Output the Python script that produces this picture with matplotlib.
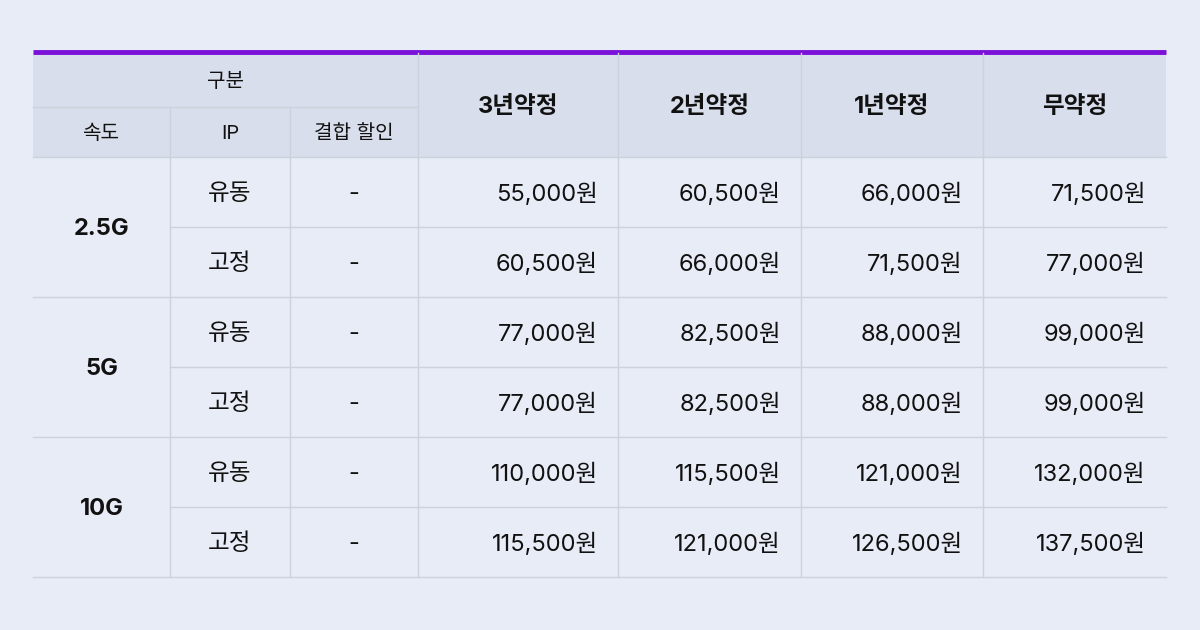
import matplotlib
matplotlib.use("Agg")
import matplotlib.pyplot as plt
from matplotlib.patches import Rectangle

plt.rcParams['font.family'] = ['Inter', 'Noto Sans CJK KR', 'DejaVu Sans']

speeds = ["2.5G", "5G", "10G"]
ip_types = ["유동", "고정"]
discount = "-"
terms = ["3년약정", "2년약정", "1년약정", "무약정"]
price_3y = [55000, 60500, 77000, 77000, 110000, 115500]
price_2y = [60500, 66000, 82500, 82500, 115500, 121000]
price_1y = [66000, 71500, 88000, 88000, 121000, 126500]
price_no = [71500, 77000, 99000, 99000, 132000, 137500]
prices = [price_3y, price_2y, price_1y, price_no]

BG = "#E8ECF6"
HEAD = "#D9DEEC"
LINE = "#CDD1DC"
PURPLE = "#7B10D8"
TXT = "#111111"

fig = plt.figure(figsize=(12, 6.3), dpi=100, facecolor=BG)
ax = fig.add_axes([0, 0, 1, 1])
ax.set_xlim(0, 1200); ax.set_ylim(630, 0); ax.axis("off")

cols = [33, 170, 290, 418, 618, 801, 983, 1166]
top, h1, h2 = 53, 107, 157
rowh = 70
nrows = len(price_3y)
bottom = h2 + rowh * nrows

ax.add_patch(Rectangle((33, top), 1133, h2 - top, color=HEAD, lw=0))
ax.plot([33, 1166], [top - 1, top - 1], color=PURPLE, lw=3.5, solid_capstyle="butt")

lw = 1.0
ax.plot([33, 418], [h1, h1], color=LINE, lw=lw)
ax.plot([33, 1166], [h2, h2], color=LINE, lw=lw)
for r in range(1, nrows + 1):
    y = h2 + rowh * r
    if r % 2 == 0:
        ax.plot([33, 1166], [y, y], color=LINE, lw=lw)
    else:
        ax.plot([170, 1166], [y, y], color=LINE, lw=lw)
for c in cols[1:-1]:
    y0 = h1 if c in (170, 290) else top
    ax.plot([c, c], [y0, bottom], color=LINE, lw=lw)

fs_small = 14.5
fs = 17
dy = 2
ax.text((33 + 418) / 2, (top + h1) / 2 + dy, "구분", ha="center", va="center", fontsize=fs_small, color=TXT)
for txt, a, b in [("속도", 33, 170), ("IP", 170, 290), ("결합 할인", 290, 418)]:
    ax.text((a + b) / 2, (h1 + h2) / 2 + dy, txt, ha="center", va="center", fontsize=fs_small, color=TXT)
for i, t in enumerate(terms):
    ax.text((cols[3 + i] + cols[4 + i]) / 2, (top + h2) / 2 + dy, t, ha="center", va="center",
            fontsize=fs, fontweight="bold", color=TXT)

for s, sp in enumerate(speeds):
    ax.text((33 + 170) / 2, h2 + rowh * (2 * s + 1) + dy, sp, ha="center", va="center",
            fontsize=fs, fontweight="bold", color=TXT)
for r in range(nrows):
    yc = h2 + rowh * r + rowh / 2 + dy
    ax.text(230, yc, ip_types[r % 2], ha="center", va="center", fontsize=fs, color=TXT)
    ax.text(354, yc, discount, ha="center", va="center", fontsize=fs, color=TXT)
    for i in range(4):
        ax.text(cols[4 + i] - 20, yc, f"{prices[i][r]:,}원", ha="right", va="center",
                fontsize=fs, color=TXT)

fig.savefig("out.png", dpi=100, facecolor=BG)
